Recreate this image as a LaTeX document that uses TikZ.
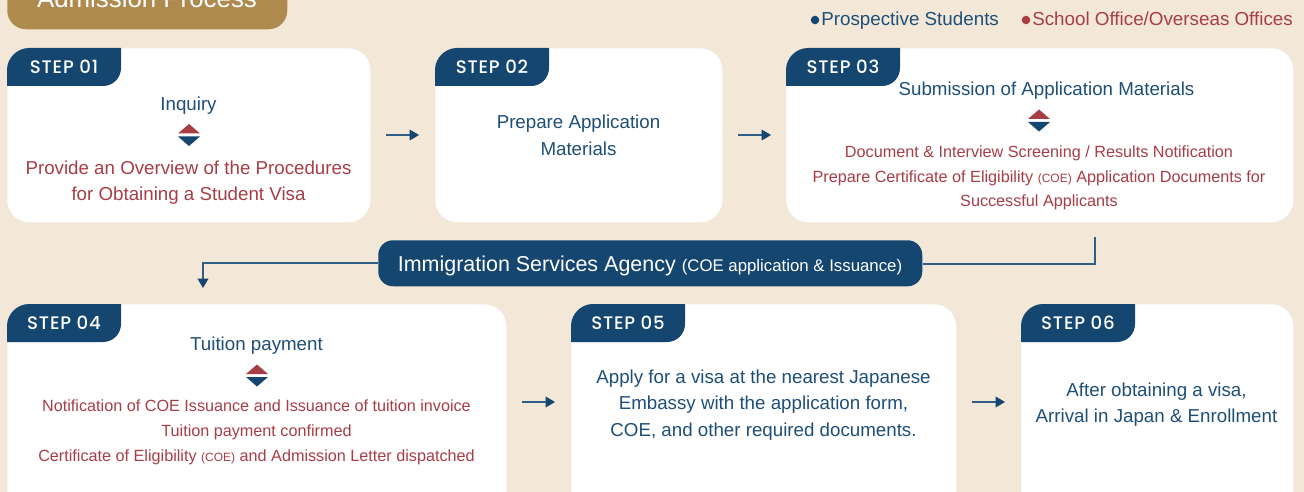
\documentclass[tikz,border=0pt]{standalone}
\usepackage{fontspec}
\setmainfont{Liberation Sans}
\newfontfamily\stepfont[LetterSpace=4.5]{Poppins Medium}
\usetikzlibrary{arrows.meta}
\definecolor{bgc}{HTML}{F3E8D7}
\definecolor{navy}{HTML}{15466F}
\definecolor{bluet}{HTML}{1E4F78}
\definecolor{redc}{HTML}{A83E45}
\definecolor{gold}{HTML}{AF8A4F}
\definecolor{linec}{HTML}{2F5F87}
\newcommand{\fsz}[1]{\fontsize{#1}{#1}\selectfont}
\tikzset{
  x=0.75pt,y=-0.75pt,
  card/.style={fill=white,rounded corners=16.5pt,anchor=north west,inner sep=0pt},
  steplabel/.style={text=white,font=\stepfont\fsz{13.6},inner sep=0pt},
  bluetxt/.style={text=bluet,font=\fsz{14.05},inner sep=0pt,anchor=base},
  redbig/.style={text=redc,font=\fsz{14.05},inner sep=0pt,anchor=base},
  redsm/.style={text=redc,font=\fsz{12.15},inner sep=0pt,anchor=base},
  legend/.style={font=\fsz{14.1},inner sep=0pt,anchor=base west},
  conn/.style={draw=linec,line width=1.1pt},
  tiphead/.style={-{Triangle[length=7pt,width=8pt,color=navy]}},
  arr/.style={draw=linec,line width=1.1pt,tiphead},
}
\newcommand{\tabat}[3]{% x, y, label
  \fill[navy] (#1,#2+38) -- (#1,#2+22) .. controls (#1,#2+10) and (#1+10,#2) .. (#1+22,#2) -- (#1+114,#2) -- (#1+114,#2+20) .. controls (#1+114,#2+30) and (#1+106,#2+38) .. (#1+96,#2+38) -- cycle;
  \node[steplabel] at (#1+57,#2+19) {#3};
}
\newcommand{\updown}[2]{%
  \fill[redc] (#1-11,#2-1.5) -- (#1,#2-11) -- (#1+11,#2-1.5) -- cycle;
  \fill[navy] (#1-11,#2+1.5) -- (#1,#2+11) -- (#1+11,#2+1.5) -- cycle;
}
\begin{document}
\begin{tikzpicture}
\path[use as bounding box,clip] (0,0) rectangle (1304,492);
\fill[bgc] (0,0) rectangle (1304,492);
% title
\node[fill=gold,rounded corners=14pt,anchor=north west,minimum width=210pt,minimum height=37.5pt,inner sep=0pt] (title) at (7,-21) {};
\node[text=white,font=\fsz{19.4},inner sep=0pt,anchor=base] (titletxt) at (147,7.5) {Admission Process};
% legend
\node[circle,fill=navy,minimum size=6.4pt,inner sep=0pt] (d1) at (815,20) {};
\node[legend,text=bluet] (l1) at (821,26) {Prospective Students};
\node[circle,fill=redc,minimum size=6.4pt,inner sep=0pt] (d2) at (1026,20) {};
\node[legend,text=redc] (l2) at (1032,26) {School Office/Overseas Offices};
% cards
\node[card,minimum width=272.25pt,minimum height=130.5pt] (c1) at (7,48) {};
\node[card,minimum width=215.25pt,minimum height=130.5pt] (c2) at (435,48) {};
\node[card,minimum width=380.25pt,minimum height=130.5pt] (c3) at (786,48) {};
\node[card,minimum width=374.25pt,minimum height=160pt] (c4) at (7,304) {};
\node[card,minimum width=288.75pt,minimum height=160pt] (c5) at (571,304) {};
\node[card,minimum width=204pt,minimum height=160pt] (c6) at (1021,304) {};
\tabat{7}{48}{STEP 01}
\tabat{435}{48}{STEP 02}
\tabat{786}{48}{STEP 03}
\tabat{7}{304}{STEP 04}
\tabat{571}{304}{STEP 05}
\tabat{1021}{304}{STEP 06}
% card 1
\node[bluetxt] (t1) at (188.5,110.5) {Inquiry};
\updown{189}{135}
\node[redbig] (t1a) at (188.5,174) {Provide an Overview of the Procedures};
\node[redbig] (t1b) at (188.5,200) {for Obtaining a Student Visa};
% card 2
\node[bluetxt] (t2a) at (578.5,128) {Prepare Application};
\node[bluetxt] (t2b) at (578.5,155.5) {Materials};
% card 3
\node[bluetxt] (t3) at (1046.5,95.5) {Submission of Application Materials};
\updown{1039}{120.5}
\node[redsm] (t3a) at (1039,157) {Document \& Interview Screening / Results Notification};
\node[redsm] (t3b) at (1039,182) {Prepare Certificate of Eligibility {\fsz{9}(COE)} Application Documents for};
\node[redsm] (t3c) at (1039,206) {Successful Applicants};
% card 4
\node[bluetxt] (t4) at (256.5,350) {Tuition payment};
\updown{257}{375.5}
\node[redsm] (t4a) at (256.5,411) {Notification of COE Issuance and Issuance of tuition invoice};
\node[redsm] (t4b) at (256.5,436) {Tuition payment confirmed};
\node[redsm] (t4c) at (256.5,461) {Certificate of Eligibility {\fsz{9}(COE)} and Admission Letter dispatched};
% card 5
\node[bluetxt] (t5a) at (763.5,383) {Apply for a visa at the nearest Japanese};
\node[bluetxt] (t5b) at (763.5,409) {Embassy with the application form,};
\node[bluetxt] (t5c) at (763.5,436) {COE, and other required documents.};
% card 6
\node[bluetxt] (t6a) at (1156.5,396) {After obtaining a visa,};
\node[bluetxt] (t6b) at (1156.5,422) {Arrival in Japan \& Enrollment};
% agency
\node[fill=navy,rounded corners=11pt,anchor=north west,minimum width=408pt,minimum height=34.5pt,inner sep=0pt] (isa) at (378,240) {};
\node[text=white,inner sep=0pt,anchor=base] (isat) at (650,271) {\fsz{16.1}Immigration Services Agency {\fsz{12.6}(COE application \& Issuance)}};
% connectors
\coordinate (s3) at (1095,237);
\coordinate (e4) at (203,288);
\draw[conn] (s3) |- (isa.east |- 0,264);
\draw[conn,tiphead] (isa.west |- 0,263) -| (e4);
\coordinate (a1a) at (386,135); \coordinate (a1b) at (419,135);
\coordinate (a2a) at (738,135); \coordinate (a2b) at (771,135);
\coordinate (a3a) at (522,402); \coordinate (a3b) at (555,402);
\coordinate (a4a) at (972,402); \coordinate (a4b) at (1005,402);
\draw[arr] (a1a) -- (a1b);
\draw[arr] (a2a) -- (a2b);
\draw[arr] (a3a) -- (a3b);
\draw[arr] (a4a) -- (a4b);
\end{tikzpicture}
\end{document}
